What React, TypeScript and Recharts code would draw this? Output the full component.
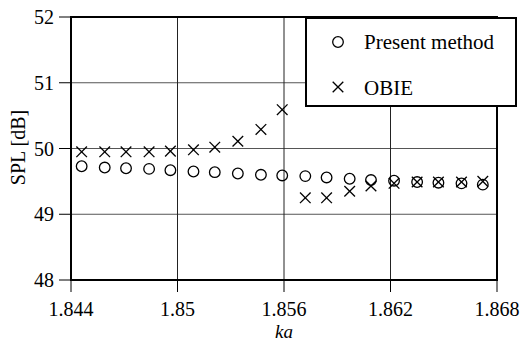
import React from 'react';
import {
  ScatterChart,
  Scatter,
  XAxis,
  YAxis,
  CartesianGrid,
  ReferenceArea,
  Legend,
} from 'recharts';

const kaValues = [
  1.8446, 1.8459, 1.8471, 1.8484, 1.8496, 1.8509, 1.8521, 1.8534, 1.8547, 1.8559,
  1.8572, 1.8584, 1.8597, 1.8609, 1.8622, 1.8635, 1.8647, 1.866, 1.8672,
];
const presentSpl = [
  49.73, 49.71, 49.7, 49.69, 49.67, 49.65, 49.64, 49.62, 49.6, 49.59,
  49.58, 49.56, 49.54, 49.52, 49.51, 49.49, 49.48, 49.47, 49.45,
];
const obieSpl = [
  49.95, 49.95, 49.95, 49.95, 49.96, 49.98, 50.02, 50.11, 50.29, 50.59,
  49.25, 49.25, 49.35, 49.43, 49.47, 49.49, 49.49, 49.49, 49.5,
];
const xTicks = [1.844, 1.85, 1.856, 1.862, 1.868];
const yTicks = [48, 49, 50, 51, 52];

const presentData = kaValues.map((x, i) => ({ x, y: presentSpl[i] }));
const obieData = kaValues.map((x, i) => ({ x, y: obieSpl[i] }));

const FONT = '"Liberation Serif", "Times New Roman", serif';
const tickStyle = { fill: '#000', fontSize: 20, fontFamily: FONT };

const CircleMark = (props: any) => (
  <circle cx={props.cx} cy={props.cy} r={5.3} fill="none" stroke="#000" strokeWidth={1.3} />
);

const CrossMark = (props: any) => {
  const { cx, cy } = props;
  const s = 5.3;
  return (
    <g stroke="#000" strokeWidth={1.3}>
      <line x1={cx - s} y1={cy - s} x2={cx + s} y2={cy + s} />
      <line x1={cx - s} y1={cy + s} x2={cx + s} y2={cy - s} />
    </g>
  );
};

const LegendBox = () => (
  <svg width={208} height={86} style={{ display: 'block' }}>
    <CircleMark cx={31} cy={23} />
    <text x={57} y={30} fontSize={21} fontFamily={FONT} fill="#000">
      Present method
    </text>
    <CrossMark cx={31} cy={68} />
    <text x={57} y={76} fontSize={21} fontFamily={FONT} fill="#000">
      OBIE
    </text>
  </svg>
);

export default function App() {
  return (
    <div style={{ position: 'absolute', left: 0, top: 0, background: '#fff' }}>
      <ScatterChart
        width={523}
        height={342}
        margin={{ top: 17, right: 26, bottom: 2, left: 0 }}
      >
        <CartesianGrid horizontal={true} vertical={false} stroke="#555" strokeWidth={1} />
        <CartesianGrid horizontal={false} vertical={true} stroke="#222" strokeWidth={1} />
        <XAxis
          type="number"
          dataKey="x"
          domain={[1.844, 1.868]}
          ticks={xTicks}
          allowDataOverflow
          height={60}
          tick={tickStyle}
          tickSize={12}
          tickMargin={9.5}
          tickLine={{ stroke: '#000' }}
          axisLine={{ stroke: '#000', strokeWidth: 2 }}
          label={{
            content: ({ viewBox }: any) => (
              <text
                x={viewBox.x + viewBox.width / 2}
                y={viewBox.y + 57.5}
                textAnchor="middle"
                fontSize={19}
                fontStyle="italic"
                fontFamily={FONT}
                fill="#000"
              >
                ka
              </text>
            ),
          }}
        />
        <YAxis
          type="number"
          dataKey="y"
          domain={[48, 52]}
          ticks={yTicks}
          allowDataOverflow
          width={71}
          tick={tickStyle}
          tickSize={12}
          tickMargin={5}
          tickLine={{ stroke: '#000' }}
          axisLine={{ stroke: '#000', strokeWidth: 2 }}
          label={{
            content: ({ viewBox }: any) => {
              const x = viewBox.x + 25;
              const y = viewBox.y + viewBox.height / 2 - 1;
              return (
                <text
                  x={x}
                  y={y}
                  transform={`rotate(-90 ${x} ${y})`}
                  textAnchor="middle"
                  fontSize={20}
                  fontFamily={FONT}
                  fill="#000"
                >
                  SPL [dB]
                </text>
              );
            },
          }}
        />
        <ReferenceArea
          x1={1.844}
          x2={1.868}
          y1={48}
          y2={52}
          fill="none"
          stroke="#000"
          strokeWidth={2}
        />
        <Scatter
          name="Present method"
          data={presentData}
          shape={CircleMark}
          isAnimationActive={false}
        />
        <Scatter name="OBIE" data={obieData} shape={CrossMark} isAnimationActive={false} />
        <Legend
          layout="horizontal"
          verticalAlign="middle"
          align="center"
          content={() => <LegendBox />}
          wrapperStyle={{
            left: 305,
            top: 17,
            width: 212,
            height: 90,
            border: '2px solid #000',
            background: '#fff',
            boxSizing: 'border-box',
          }}
        />
      </ScatterChart>
    </div>
  );
}
